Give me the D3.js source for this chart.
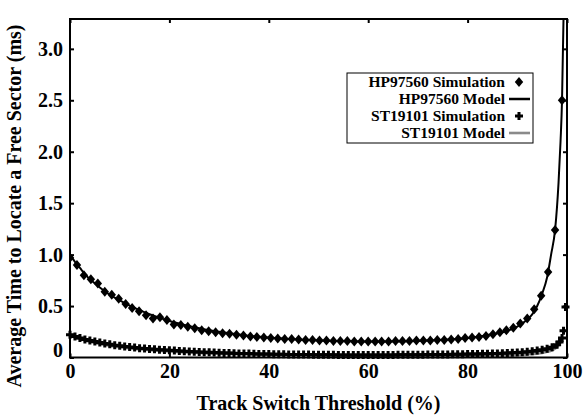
<!DOCTYPE html>
<html><head><meta charset="utf-8">
<script src="https://cdn.jsdelivr.net/npm/d3@7"></script>
<style>body{margin:0;background:#fff}svg{display:block}text{font-family:"Liberation Serif","Times New Roman",serif;font-weight:bold;fill:#000}</style>
</head><body><svg id="c" width="584" height="419"></svg>
<script>
// ---- data ----
const xTicks = [0, 20, 40, 60, 80, 100];
const yTicks = [0, 0.5, 1.0, 1.5, 2.0, 2.5, 3.0];
const yTickLabels = ["0", "0.5", "1.0", "1.5", "2.0", "2.5", "3.0"];
const seriesNames = ["HP97560 Simulation", "HP97560 Model", "ST19101 Simulation", "ST19101 Model"];

const hpSimX = [0,1.4,2.8,4.2,5.6,7.0,8.4,9.8,11.2,12.5,13.9,15.3,16.7,18.1,19.5,20.9,22.3,23.7,25.1,26.5,27.9,29.3,30.7,32.1,33.5,34.9,36.3,37.6,39.0,40.4,41.8,43.2,44.6,46.0,47.4,48.8,50.2,51.6,53.0,54.4,55.8,57.2,58.6,60.0,61.4,62.7,64.1,65.5,66.9,68.3,69.7,71.1,72.5,73.9,75.3,76.7,78.1,79.5,80.9,82.3,83.7,85.1,86.5,87.8,89.2,90.6,92.0,93.4,94.8,96.2,97.6,99.0];
const hpSimY = [0.97,0.90,0.80,0.76,0.72,0.64,0.61,0.57,0.52,0.48,0.45,0.41,0.38,0.39,0.365,0.32,0.315,0.30,0.285,0.265,0.255,0.245,0.235,0.23,0.22,0.215,0.205,0.20,0.195,0.19,0.185,0.18,0.18,0.175,0.17,0.17,0.165,0.165,0.16,0.16,0.16,0.155,0.155,0.155,0.155,0.155,0.155,0.16,0.16,0.16,0.165,0.165,0.165,0.17,0.17,0.175,0.18,0.19,0.195,0.20,0.21,0.225,0.245,0.265,0.29,0.33,0.38,0.47,0.60,0.83,1.24,2.50];

const hpModX = [0,1,2,3,4,5,6,8,10,12,14,16,18,20,22,24,26,28,30,33,36,40,44,48,52,56,60,64,68,72,76,80,83,86,88,90,92,93,94,95,96,96.8,97.6,98.3,98.7,99.0,99.3,99.5];
const hpModY = [1.0,0.93,0.87,0.81,0.76,0.72,0.68,0.61,0.555,0.505,0.46,0.42,0.385,0.355,0.33,0.305,0.285,0.265,0.25,0.23,0.21,0.195,0.18,0.17,0.163,0.158,0.155,0.155,0.158,0.165,0.175,0.19,0.21,0.235,0.26,0.30,0.37,0.42,0.50,0.62,0.78,1.0,1.24,1.7,2.1,2.5,3.3,4.2];

const stSimX = [0,1,2,3,4,5,6,7,8,9,10,11,12,13,14,15,16,17,18,19,20,21,22,23,24,25,26,27,28,29,30,31,32,33,34,35,36,37,38,39,40,41,42,43,44,45,46,47,48,49,50,51,52,53,54,55,56,57,58,59,60,61,62,63,64,65,66,67,68,69,70,71,72,73,74,75,76,77,78,79,80,81,82,83,84,85,86,87,88,89,90,91,92,93,94,95,96,97,98,98.5,99.0,99.3,99.7];
const stSimY = [0.22,0.205,0.19,0.175,0.165,0.155,0.145,0.135,0.128,0.12,0.113,0.107,0.101,0.096,0.091,0.087,0.083,0.079,0.076,0.073,0.070,0.067,0.064,0.061,0.058,0.056,0.054,0.052,0.050,0.048,0.046,0.044,0.043,0.041,0.040,0.039,0.038,0.036,0.035,0.034,0.033,0.032,0.031,0.031,0.030,0.029,0.029,0.028,0.028,0.027,0.027,0.026,0.026,0.026,0.025,0.025,0.025,0.025,0.025,0.025,0.025,0.025,0.025,0.025,0.025,0.025,0.026,0.026,0.026,0.027,0.027,0.027,0.028,0.028,0.029,0.029,0.030,0.031,0.031,0.032,0.033,0.034,0.035,0.036,0.037,0.039,0.040,0.042,0.044,0.046,0.049,0.052,0.056,0.061,0.067,0.075,0.086,0.10,0.125,0.15,0.19,0.26,0.49];

const stModX = [0,1,2,3,4,5,6,8,10,12,14,16,18,20,24,28,32,36,40,45,50,55,60,65,70,75,80,85,88,90,92,94,95,96,97,98,98.5,99.0,99.2];
const stModY = [0.21,0.195,0.18,0.165,0.153,0.142,0.132,0.115,0.10,0.09,0.08,0.072,0.065,0.058,0.048,0.04,0.034,0.029,0.025,0.021,0.018,0.016,0.015,0.014,0.014,0.015,0.016,0.019,0.022,0.025,0.03,0.038,0.045,0.055,0.07,0.10,0.13,0.17,0.20];

// ---- layout ----
const L = 70, R = 567, T = 19, B = 357.5;
const svg = d3.select("#c");
const x = d3.scaleLinear().domain([0, 100]).range([L, R]);
const y = d3.scaleLinear().domain([0, 3.29]).range([B, T]);

svg.append("defs").append("clipPath").attr("id", "clip")
  .append("rect").attr("x", L).attr("y", T).attr("width", R - L).attr("height", B - T);

const zip = (xs, ys) => xs.map((v, i) => [v, ys[i]]);
const line = d3.line().x(d => x(d[0])).y(d => y(d[1])).curve(d3.curveMonotoneX);

const plot = svg.append("g").attr("clip-path", "url(#clip)");

const diamond = { draw(ctx, s) { const w = 4.2, h = 5; ctx.moveTo(0, -h); ctx.lineTo(w, 0); ctx.lineTo(0, h); ctx.lineTo(-w, 0); ctx.closePath(); } };
const plus = { draw(ctx, s) { const a = 4, t = 1.5; ctx.moveTo(-a, -t); ctx.lineTo(-t, -t); ctx.lineTo(-t, -a); ctx.lineTo(t, -a); ctx.lineTo(t, -t); ctx.lineTo(a, -t); ctx.lineTo(a, t); ctx.lineTo(t, t); ctx.lineTo(t, a); ctx.lineTo(-t, a); ctx.lineTo(-t, t); ctx.lineTo(-a, t); ctx.closePath(); } };

// HP sim
plot.append("g").selectAll("path").data(zip(hpSimX, hpSimY)).join("path")
  .attr("d", d3.symbol().type(diamond)())
  .attr("transform", d => `translate(${x(d[0])},${y(d[1])})`).attr("fill", "#000");
// HP model
plot.append("path").datum(zip(hpModX, hpModY)).attr("d", line)
  .attr("fill", "none").attr("stroke", "#000").attr("stroke-width", 2);
// ST sim
svg.append("g").selectAll("path").data(zip(stSimX, stSimY)).join("path")
  .attr("d", d3.symbol().type(plus)())
  .attr("transform", d => `translate(${x(d[0])},${y(d[1])})`).attr("fill", "#000");
// ST model
plot.append("path").datum(zip(stModX, stModY)).attr("d", line)
  .attr("fill", "none").attr("stroke", "#8a8a8a").attr("stroke-width", 2.6);

// ---- frame & ticks ----
const tk = 4;
const axB = svg.append("g").attr("transform", `translate(0,${B})`)
  .call(d3.axisBottom(x).tickValues(xTicks).tickSize(-tk).tickPadding(8).tickFormat(d3.format("d")));
const axT = svg.append("g").attr("transform", `translate(0,${T})`)
  .call(d3.axisTop(x).tickValues(xTicks).tickSize(-tk).tickFormat(""));
const axL = svg.append("g").attr("transform", `translate(${L},0)`)
  .call(d3.axisLeft(y).tickValues(yTicks).tickSize(-tk).tickPadding(7).tickFormat((d, i) => yTickLabels[i]));
const axR = svg.append("g").attr("transform", `translate(${R},0)`)
  .call(d3.axisRight(y).tickValues(yTicks).tickSize(-tk).tickFormat(""));
[axB, axT, axL, axR].forEach(a => {
  a.select(".domain").remove();
  a.selectAll("line").attr("stroke", "#000").attr("stroke-width", 2);
  a.selectAll("text").attr("font-size", 20).attr("font-family", "Liberation Serif").attr("font-weight", "bold").attr("fill", "#000");
});
axL.selectAll(".tick").filter(d => d === 0).select("text").attr("dy", "-0.05em");
axB.selectAll("text").attr("dy", "0.6em");
svg.append("rect").attr("x", L).attr("y", T).attr("width", R - L).attr("height", B - T)
  .attr("fill", "none").attr("stroke", "#000").attr("stroke-width", 2);

// ---- titles ----
svg.append("text").attr("x", (L + R) / 2).attr("y", 410).attr("text-anchor", "middle")
  .attr("font-size", 20).text("Track Switch Threshold (%)");
svg.append("text").attr("transform", "translate(21,206) rotate(-90)").attr("text-anchor", "middle")
  .attr("font-size", 20).text("Average Time to Locate a Free Sector (ms)");

// ---- legend ----
const lg = svg.append("g");
lg.append("rect").attr("x", 347).attr("y", 73).attr("width", 186).attr("height", 70)
  .attr("fill", "#fff").attr("stroke", "#000").attr("stroke-width", 1);
const rowsY = [82, 99, 116, 133];
seriesNames.forEach((n, i) => {
  lg.append("text").attr("x", 505).attr("y", rowsY[i]).attr("dy", "0.35em").attr("text-anchor", "end")
    .attr("font-size", 15.5).text(n);
  const cx = 519;
  if (i === 0) lg.append("path").attr("d", d3.symbol().type(diamond)()).attr("transform", `translate(${cx},${rowsY[i]})`);
  if (i === 2) lg.append("path").attr("d", d3.symbol().type(plus)()).attr("transform", `translate(${cx},${rowsY[i]})`);
  if (i === 1) lg.append("line").attr("x1", 509).attr("x2", 530).attr("y1", rowsY[i]).attr("y2", rowsY[i]).attr("stroke", "#000").attr("stroke-width", 2.5);
  if (i === 3) lg.append("line").attr("x1", 509).attr("x2", 530).attr("y1", rowsY[i]).attr("y2", rowsY[i]).attr("stroke", "#8a8a8a").attr("stroke-width", 2.6);
});
</script></body></html>
